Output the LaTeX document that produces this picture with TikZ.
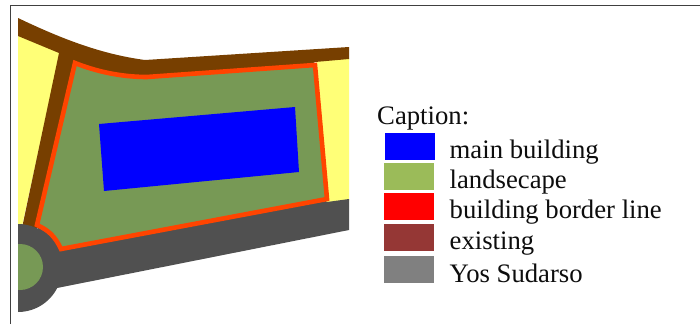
\documentclass[tikz,border=0pt]{standalone}
\usepackage{fontspec}
\setmainfont{Liberation Serif}
\tikzset{
  px/.style={x=1pt,y=-1pt},
  swatch/.style={minimum width=50pt,minimum height=27pt,inner sep=0pt,outer sep=0pt,anchor=north west},
  legendtext/.style={anchor=base west,inner sep=0pt,font=\fontsize{26.7pt}{28pt}\selectfont,text=black!95}
}
\definecolor{roadbrown}{HTML}{773F00}
\definecolor{plotyellow}{HTML}{FFFF77}
\definecolor{plotgreen}{HTML}{779955}
\definecolor{borderorange}{HTML}{FF4400}
\definecolor{roadgrey}{HTML}{505050}
\definecolor{lgreen}{HTML}{9BBB59}
\definecolor{lbrown}{HTML}{953735}
\begin{document}
\begin{tikzpicture}[px]
\useasboundingbox (0,0) rectangle (700,324);
\fill[white] (0,0) rectangle (700,324);
\draw[black!75,line width=1pt] (10,324) -- (10,5) -- (700,5);
\begin{scope}
\clip (18,18) rectangle (349,314);
% yellow plots
\fill[plotyellow] (18,36) -- (60,52) -- (22,226) -- (18,226) -- cycle;
\fill[plotyellow] (316,58) -- (349,58) -- (349,201) -- (326,203) -- cycle;
% brown roads
\fill[roadbrown] (18,18) .. controls (60,38) and (100,54) .. (145,60) -- (349,47) -- (349,59) -- (315,62) -- (300,70) -- (100,80) -- (60,150) -- (42,228) -- (22,228) -- (59,53) -- (18,36) -- cycle;
% grey road
\fill[roadgrey] (18,268) circle[radius=44];
\fill[roadgrey] (37,222) -- (70,240) -- (320,197) -- (327,202) -- (349,199) -- (349,230) -- (57,288) -- (40,250) -- cycle;
% green plot
\filldraw[fill=plotgreen,draw=borderorange,line width=4.6pt,line join=miter] (75,63) .. controls (95,71) and (120,77) .. (147,77) -- (315,65) -- (327,199) -- (61,249) .. controls (55,236) and (48,230) .. (37,225) -- cycle;
\fill[plotgreen] (20,267) circle[radius=23];
\fill[blue] (99,124) -- (295,107) -- (299,172) -- (104,191) -- cycle;
\end{scope}
% legend
\node[legendtext] (cap) at (377,124) {Caption:};
\node[swatch,fill=blue] (s1) at (385,133) {};
\node[swatch,fill=lgreen] (s2) at (384,163) {};
\node[swatch,fill=red] (s3) at (384,193) {};
\node[swatch,fill=lbrown] (s4) at (384,224) {};
\node[swatch,fill=black!50] (s5) at (384,256) {};
\node[legendtext] (t1) at (449.5,158) {main building};
\node[legendtext] (t2) at (449.5,188) {landsecape};
\node[legendtext] (t3) at (449.5,218) {building border line};
\node[legendtext] (t4) at (449.5,249) {existing};
\node[legendtext] (t5) at (449.5,282) {Yos Sudarso};
\end{tikzpicture}
\end{document}
